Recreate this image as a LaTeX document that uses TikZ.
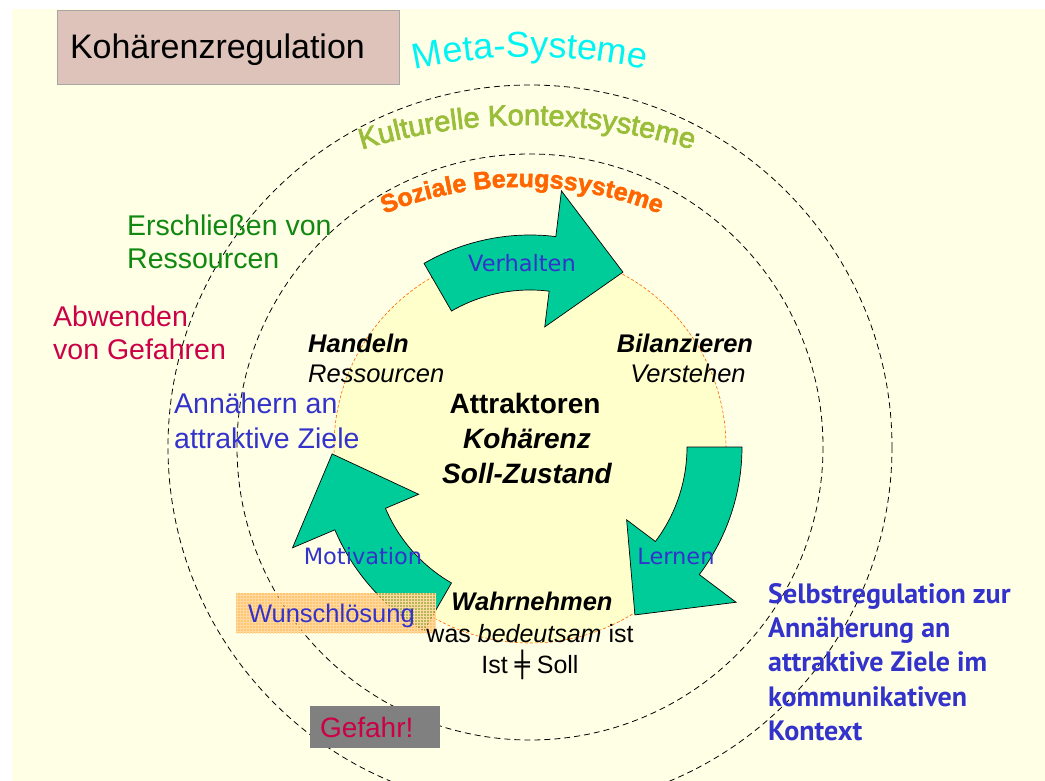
\documentclass[tikz,border=0pt]{standalone}
\usepackage{fontspec}
\setmainfont{Liberation Sans}
\newfontfamily\dejavu{DejaVu Sans}
\newfontfamily\ptsans{PT Sans}
\newfontfamily\kultsans[FakeBold=2.5]{Liberation Sans}
\newfontfamily\sozsans[UprightFont={* Bold},FakeBold=2]{Liberation Sans}
\usetikzlibrary{positioning,calc,decorations.text,patterns}

\definecolor{paper}{HTML}{FFFFE6}
\definecolor{coreyellow}{HTML}{FFFFCC}
\definecolor{titlerose}{HTML}{DDC3B9}
\definecolor{flowgreen}{HTML}{00CC99}
\definecolor{labelblue}{HTML}{3333CC}
\definecolor{resgreen}{HTML}{118811}
\definecolor{dangerred}{HTML}{CC0047}
\definecolor{metacyan}{HTML}{00F4F4}
\definecolor{kultgreen}{HTML}{9ABD3A}
\definecolor{sozorange}{HTML}{FF6600}
\definecolor{wishorange}{HTML}{FFB040}
\definecolor{wishgrid}{HTML}{FFD9A0}

\newcommand{\fsz}[2]{\fontsize{#1}{#2}\selectfont}
\newcommand{\metafont}{\fsz{36}{36}\color{metacyan}}
\newcommand{\kultfont}{\kultsans\fsz{29}{29}\color{kultgreen}}
\newcommand{\sozfont}{\sozsans\fsz{25}{25}\color{sozorange}}

\begin{document}
\begin{tikzpicture}[x=1pt,y=-1pt]
  \tikzstyle{ring}=[draw=black,dash pattern=on 6pt off 4pt,line width=0.8pt]
  \tikzstyle{core}=[draw=sozorange,fill=coreyellow,dash pattern=on 3pt off 2pt,line width=0.6pt]
  \tikzstyle{flow}=[draw=black,fill=flowgreen,line width=0.7pt,line join=miter]
  \tikzstyle{flowlabel}=[text=labelblue,font=\dejavu\fsz{22.5}{27},anchor=base,inner sep=0pt]
  \tikzstyle{side}=[font=\fsz{28.5}{34},anchor=base west,inner sep=0pt]
  \tikzstyle{stage}=[font=\fsz{25.5}{30},inner sep=0pt]
  \tikzstyle{attractor}=[font=\fsz{28}{34}\bfseries,anchor=base,inner sep=0pt]
  \tikzstyle{selbst}=[font=\ptsans\bfseries\fsz{28}{34},text=labelblue,anchor=base west,inner sep=0pt]
  \tikzstyle{titlebox}=[fill=titlerose,draw=black!35,line width=0.8pt,font=\fsz{34}{40},
    text width=316pt,inner xsep=13pt,minimum height=74pt,text height=24pt,text depth=0pt]
  \tikzstyle{wishbox}=[preaction={fill=wishorange,fill opacity=.7},pattern=grid,pattern color=wishgrid,
    text opacity=1,text=labelblue,font=\fsz{25.5}{30},text width=176pt,inner xsep=12pt,
    minimum height=40pt,text height=19pt,text depth=0pt]
  \tikzstyle{dangerbox}=[fill=black!50,text=dangerred,font=\fsz{28}{34},text width=110pt,
    inner xsep=10pt,minimum height=42pt,text height=20pt,text depth=0pt]

  \useasboundingbox (0,0) rectangle (1045,781);
  \fill[paper] (12,9) rectangle (1045,781);

  % rings of systems
  \coordinate (C) at (530,447);
  \draw[ring] (C) circle[radius=362];
  \draw[ring] (C) circle[radius=293];
  \path[core] (C) circle[radius=196];

  % arched headings
  \coordinate (metaC) at (530,590);
  \coordinate (kultC) at (527,693);
  \coordinate (sozC) at (522,553);
  \path[decorate,decoration={text along path,text align=center,text={|\metafont|Meta-Systeme}}]
    ([shift={(-115:533)}]metaC) arc[start angle=-115,end angle=-65,radius=533];
  \path[decorate,decoration={text along path,text align=center,text={|\kultfont|Kulturelle Kontextsysteme}}]
    ([shift={(-114:568)}]kultC) arc[start angle=-114,end angle=-66,radius=568];
  \path[decorate,decoration={text along path,text align=center,text={|\sozfont|Soziale Bezugssysteme}}]
    ([shift={(-122:366)}]sozC) arc[start angle=-122,end angle=-58,radius=366];

  % cycle of arrows
  \foreach \a in {-120,0,120}
    \draw[flow] ([shift={(\a:212)}]C) arc[start angle=\a,end angle=\a+37,radius=212]
      -- ([shift={(\a+37:258)}]C) -- ([shift={(\a+58:198)}]C)
      -- ([shift={(\a+37:121)}]C) -- ([shift={(\a+37:157)}]C)
      arc[start angle=\a+37,end angle=\a,radius=157] -- cycle;

  \node (verhalten) [flowlabel] at (522,271) {Verhalten};
  \node (motivation) [flowlabel] at (363,564) {Motivation};
  \node (lernen) [flowlabel] at (676,564) {Lernen};

  % title
  \node (title) [titlebox] at (228,47) {Kohärenzregulation};

  % left side goals
  \node (ersch) [side,text=resgreen] at (127,236) {Erschließen von};
  \node (erschres) [side,text=resgreen,below=33pt of ersch.base west,anchor=base west] {Ressourcen};
  \node (abw) [side,text=dangerred] at (53,326) {Abwenden};
  \node (abwgef) [side,text=dangerred,below=33pt of abw.base west,anchor=base west] {von Gefahren};
  \node (ann) [side,text=labelblue] at (174,413) {Annähern an};
  \node (annziele) [side,text=labelblue,below=35pt of ann.base west,anchor=base west] {attraktive Ziele};

  % stages
  \node (handeln) [stage,anchor=base west] at (308,352) {\bfseries\itshape Handeln};
  \node (handres) [stage,below=30pt of handeln.base west,anchor=base west] {\itshape Ressourcen};
  \node (bilanz) [stage,anchor=base] at (685,352) {\bfseries\itshape Bilanzieren};
  \node (verst) [stage,below=30pt of bilanz.base,anchor=base,xshift=3pt] {\itshape Verstehen};
  \node (attr) [attractor] at (525,413) {Attraktoren};
  \node (koh) [attractor,below=35pt of attr.base,anchor=base,xshift=2pt] {\itshape Kohärenz};
  \node (soll) [attractor,below=35pt of koh.base,anchor=base] {\itshape Soll-Zustand};

  % boxes
  \node (wunsch) [wishbox] at (336,613) {Wunschlösung};
  \node (gefahr) [dangerbox] at (375,727) {Gefahr!};

  \node (wahr) [stage,anchor=base] at (532,610) {\bfseries\itshape Wahrnehmen};
  \node (bedeut) [stage,font=\fsz{25}{30},below=32pt of wahr.base,anchor=base,xshift=-2pt] {was \textit{bedeutsam} ist};
  \node (istsoll) [stage,font=\fsz{25}{30},below=31pt of bedeut.base,anchor=base] {Ist {\dejavu ╪} Soll};

  % self regulation
  \node (selbst1) [selbst] at (768,603) {Selbstregulation zur};
  \node (selbst2) [selbst,below=34pt of selbst1.base west,anchor=base west] {Annäherung an};
  \node (selbst3) [selbst,below=34pt of selbst2.base west,anchor=base west] {attraktive Ziele im};
  \node (selbst4) [selbst,below=35pt of selbst3.base west,anchor=base west] {kommunikativen};
  \node (selbst5) [selbst,below=34pt of selbst4.base west,anchor=base west] {Kontext};
\end{tikzpicture}
\end{document}
